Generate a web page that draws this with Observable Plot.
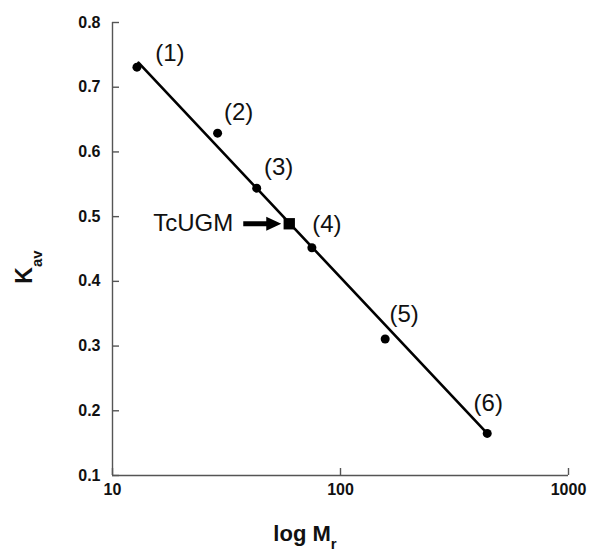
<!DOCTYPE html>
<html><head><meta charset="utf-8">
<script src="https://cdn.jsdelivr.net/npm/d3@7"></script>
<script src="https://cdn.jsdelivr.net/npm/@observablehq/plot@0.6"></script>
<style>body{margin:0;background:#fff;} #chart svg{display:block;}</style>
</head><body><div id="chart"></div>
<script>
// Standards
const pointLabels = ["(1)", "(2)", "(3)", "(4)", "(5)", "(6)"];
const pointMr = [12.8, 28.9, 42.9, 74.9, 157, 440];
const pointKav = [0.731, 0.629, 0.544, 0.452, 0.311, 0.165];
// Sample
const sampleName = "TcUGM";
const sampleMr = [59.6];
const sampleKav = [0.489];
// Fitted line end points
const fitMr = [13, 440];
const fitKav = [0.738, 0.165];
// Axes
const xTicks = [10, 100, 1000];
const yTicks = [0.1, 0.2, 0.3, 0.4, 0.5, 0.6, 0.7, 0.8];
const xTitle = "log M", xSub = "r";
const yTitle = "K", ySub = "av";

const points = pointLabels.map((l, i) => ({label: l, mr: pointMr[i], kav: pointKav[i]}));
const sample = [{name: sampleName, mr: sampleMr[0], kav: sampleKav[0]}];
const fit = fitMr.map((m, i) => ({mr: m, kav: fitKav[i]}));

const FONT = "'Liberation Sans', Arial, sans-serif";
const AX = "#555";
const labelOffsets = [[33, -14], [21, -21], [22, -21], [15, -23], [19, -25], [1, -30]];

const arrowShape = {
  draw(ctx, l) {
    const head = 15, hw = 7, sw = 2.4;
    ctx.moveTo(-sw, 0);
    ctx.lineTo(-sw, -l + head);
    ctx.lineTo(-hw, -l + head);
    ctx.lineTo(0, -l);
    ctx.lineTo(hw, -l + head);
    ctx.lineTo(sw, -l + head);
    ctx.lineTo(sw, 0);
    ctx.closePath();
  }
};

const chart = Plot.plot({
  width: 589,
  height: 556,
  marginTop: 22,
  marginBottom: 81,
  marginLeft: 112,
  marginRight: 21,
  style: {fontFamily: FONT, background: "#fff", color: "#000"},
  x: {type: "log", domain: [10, 1000]},
  y: {domain: [0.1, 0.8]},
  marks: [
    Plot.ruleX([10], {stroke: AX, strokeWidth: 1.4}),
    Plot.ruleY([0.1], {stroke: AX, strokeWidth: 1.4}),
    Plot.axisY(yTicks, {tickSize: -7, tickPadding: 19, stroke: AX, strokeWidth: 1.4,
      tickFormat: d => d.toFixed(1), fontSize: 16, fontWeight: "bold", fill: "#111", label: null}),
    Plot.axisX(xTicks, {tickSize: -7, tickPadding: 15, stroke: AX, strokeWidth: 1.4,
      tickFormat: d => String(d), fontSize: 16, fontWeight: "bold", fill: "#111", label: null}),
    Plot.line(fit, {x: "mr", y: "kav", stroke: "#000", strokeWidth: 2.6}),
    Plot.dot(points, {x: "mr", y: "kav", r: 4.5, fill: "#000", stroke: null}),
    Plot.dot(sample, {x: "mr", y: "kav", symbol: "square", r: 6.4, fill: "#000", stroke: null}),
    ...points.map((p, i) => Plot.text([p], {x: "mr", y: "kav", text: "label",
      dx: labelOffsets[i][0], dy: labelOffsets[i][1], fontSize: 24, fill: "#111"})),
    Plot.vector(sample, {x: "mr", y: "kav", length: 38, rotate: 90, anchor: "end", dx: -8,
      shape: arrowShape, fill: "#000", stroke: "none"}),
    Plot.text(sample, {x: "mr", y: "kav", text: "name", textAnchor: "end", dx: -56,
      fontSize: 24, fill: "#111"})
  ]
});

const svg = d3.select(chart);
const xt = svg.append("text")
  .attr("x", 305).attr("y", 541)
  .attr("font-family", FONT).attr("font-weight", "bold").attr("font-size", 22).attr("fill", "#111");
xt.append("tspan").text(xTitle);
xt.append("tspan").attr("font-size", 15).attr("dy", 8).text(xSub);

const yt = svg.append("text")
  .attr("transform", "translate(32,267) rotate(-90)")
  .attr("font-family", FONT).attr("font-weight", "bold").attr("font-size", 23).attr("fill", "#111");
yt.append("tspan").text(yTitle);
yt.append("tspan").attr("font-size", 15).attr("dy", 10).text(ySub);

document.getElementById("chart").appendChild(chart);
</script>
</body></html>
